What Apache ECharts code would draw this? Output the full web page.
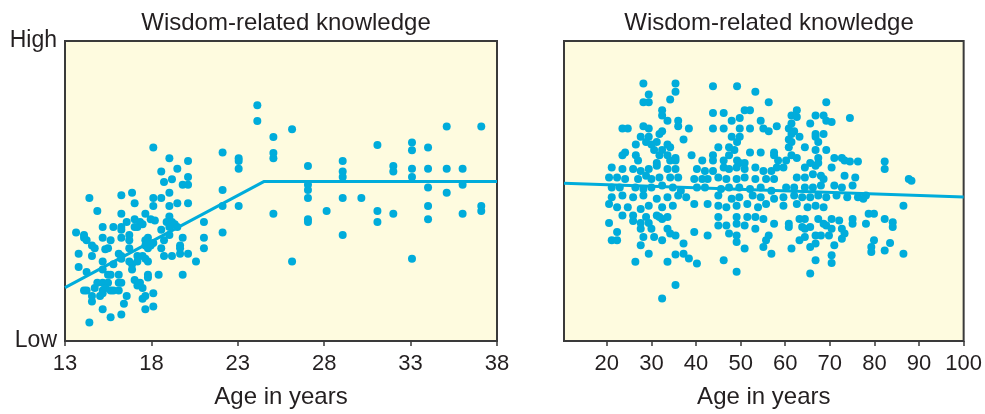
<!DOCTYPE html>
<html><head><meta charset="utf-8">
<script src="https://cdn.jsdelivr.net/npm/echarts@6/dist/echarts.min.js"></script>
<style>html,body{margin:0;padding:0;background:#fff}#c{width:985px;height:414px}</style>
</head><body><div id="c"></div>
<script>
// ---------- DATA ----------
const chartTitle = 'Wisdom-related knowledge';
const xAxisName = 'Age in years';
const yTickLabels = ['Low', 'High'];           // at score 0 and 100
const leftAgeTicks = [13, 18, 23, 28, 33, 38];
const rightAgeTicks = [20, 30, 40, 50, 60, 70, 80, 90, 100];

// Left panel: adolescents & young adults (age, wisdom score 0=Low..100=High)
const youngPoints = [
[18.11,64.5],[19.04,60.9],[20.12,60.0],[22.12,62.8],[19.50,57.4],[18.57,56.5],[19.19,53.9],[18.73,53.0],
[19.81,52.1],[20.12,52.1],[20.12,54.7],[19.04,49.4],[14.41,47.7],[16.26,48.6],[16.88,49.4],[18.11,47.7],
[18.57,47.7],[17.03,45.9],[18.11,45.0],[19.04,45.0],[19.50,45.9],[20.12,45.9],[22.12,50.3],[22.12,45.0],
[14.87,43.3],[16.26,42.4],[17.65,42.4],[16.57,39.7],[17.03,40.6],[17.34,39.7],[17.96,40.6],[18.20,40.2],
[19.04,41.5],[18.88,39.7],[19.19,39.7],[19.35,38.9],[15.18,38.0],[15.80,38.0],[16.26,38.0],[16.26,37.1],
[17.03,38.0],[17.19,38.0],[17.49,38.9],[18.57,37.1],[19.04,38.0],[19.50,38.0],[21.04,39.7],[13.64,36.2],
[14.10,35.3],[14.10,34.4],[14.25,33.6],[15.18,34.4],[15.64,33.6],[16.26,34.4],[16.72,35.3],[16.72,33.6],
[17.80,34.4],[17.65,33.6],[17.80,32.7],[18.11,32.7],[18.73,33.6],[19.04,35.3],[19.81,34.4],[21.04,34.4],
[22.12,36.2],[14.56,31.8],[14.72,30.9],[15.49,30.9],[15.33,30.6],[16.72,30.9],[17.65,31.8],[17.80,30.9],
[17.96,31.8],[18.57,30.9],[19.66,31.8],[19.66,30.9],[21.04,30.9],[13.79,29.1],[14.56,28.3],[16.11,29.1],
[16.26,28.3],[17.19,28.3],[17.49,28.3],[17.65,27.4],[18.73,28.3],[19.19,28.3],[19.66,29.1],[20.12,29.1],
[15.18,26.5],[15.80,25.6],[16.26,27.4],[16.72,26.5],[16.88,25.6],[17.19,26.5],[17.80,26.5],[20.58,26.5],
[13.79,24.7],[14.25,23.0],[15.18,23.8],[15.49,22.1],[15.64,22.1],[16.11,22.1],[16.88,23.8],[17.80,22.1],
[17.80,21.2],[18.42,22.1],[19.81,22.1],[14.87,19.4],[15.18,19.4],[15.49,19.4],[16.11,19.4],[16.26,19.4],
[17.03,20.3],[17.34,19.4],[17.19,18.5],[17.49,17.7],[14.10,16.8],[14.25,16.8],[14.72,17.7],[15.18,16.8],
[15.33,17.7],[15.64,16.8],[15.80,16.8],[16.11,16.8],[14.56,15.0],[15.03,15.0],[15.18,15.9],[16.57,15.0],
[17.49,14.1],[17.65,15.0],[18.11,15.9],[14.56,13.2],[16.41,12.4],[15.18,10.6],[17.65,10.6],[18.11,11.5],
[15.64,7.9],[16.26,8.8],[14.41,6.2],
[24.13,78.6],[24.13,73.3],[25.06,68.0],[26.14,70.6],[25.06,62.7],[25.06,60.9],[23.05,60.9],[23.05,60.0],
[23.05,57.4],[23.05,45.0],[25.06,42.4],[26.14,26.5],[27.06,58.3],[27.06,52.1],[27.06,50.3],[27.06,47.7],
[27.06,40.6],[27.06,39.7],[28.14,43.3],[29.07,60.0],[29.07,56.5],[29.07,54.7],[29.07,47.7],[29.07,35.3],
[30.15,47.7],[31.08,65.3],[31.08,43.3],[31.08,39.7],[32.00,58.3],[32.00,56.5],[32.00,42.4],[33.08,66.2],
[33.08,63.6],[33.08,57.4],[33.08,54.7],[33.08,27.4],[34.01,64.5],[34.01,57.4],[34.01,51.2],[34.01,45.0],
[34.01,40.6],[35.09,71.5],[35.09,57.4],[35.09,49.4],[36.01,57.4],[36.01,52.1],[36.01,42.4],[37.09,71.5],
[37.09,45.0],[37.09,43.3]
];
const youngFit = [[13, 17.8], [24.53, 53.2], [38, 53.2]];

// Right panel: adults (age, wisdom score)
const adultPoints = [
[28.2,85.8],[35.4,85.8],[43.8,84.9],[49.2,84.9],[53.3,83.1],[35.4,83.1],[29.4,82.2],[34.2,80.5],
[28.2,79.6],[29.4,79.6],[56.3,79.6],[32.4,76.9],[32.4,75.2],[43.8,76.0],[46.2,76.0],[50.9,76.9],
[52.1,76.9],[33.6,73.4],[36.0,73.4],[48.0,73.4],[49.8,74.3],[54.5,73.4],[23.5,70.8],[24.7,70.8],
[28.2,71.6],[29.4,70.8],[36.0,71.6],[38.4,70.8],[43.8,70.8],[46.2,70.8],[49.8,70.8],[52.1,70.8],
[55.1,70.8],[56.3,69.9],[58.1,71.6],[27.6,68.1],[29.4,68.1],[31.8,69.0],[32.4,69.9],[37.2,67.2],
[48.0,68.1],[49.8,68.1],[31.2,66.3],[28.8,66.3],[26.5,65.5],[30.0,65.5],[33.6,65.5],[34.2,64.6],
[45.0,64.6],[47.4,64.6],[49.2,66.3],[48.6,63.7],[30.6,63.7],[32.4,63.7],[24.1,62.8],[23.5,61.9],
[26.5,61.9],[31.8,61.9],[33.6,61.9],[35.4,61.0],[39.0,61.9],[43.8,61.9],[43.8,60.2],[47.4,61.9],
[52.1,62.8],[54.5,62.8],[57.5,62.8],[57.5,61.9],[27.0,60.2],[34.2,60.2],[35.4,60.2],[41.4,60.2],
[46.2,60.2],[49.2,60.2],[50.9,59.3],[49.8,59.3],[31.2,59.3],
[69.2,79.6],[62.6,76.9],[61.4,75.2],[62.6,74.7],[66.8,75.2],[68.6,75.2],[74.5,74.3],[69.2,73.4],
[70.4,73.0],[61.4,72.5],[65.6,72.5],[60.8,70.8],[62.0,69.9],[61.4,69.0],[63.2,68.1],[66.8,69.0],
[68.6,69.0],[66.8,68.1],[60.8,67.2],[61.4,66.3],[67.4,66.3],[60.8,64.6],[64.4,64.6],[66.8,63.7],
[69.2,63.7],[61.4,61.9],[62.6,61.0],[67.4,61.0],[71.0,61.0],[72.7,61.0],[73.3,60.2],[60.2,60.2],
[58.4,60.2],[67.4,59.3],[74.5,59.8],[76.3,59.8],[65.6,59.3],[82.3,59.8],
[21.1,57.8],[23.5,57.3],[25.9,57.3],[27.6,56.7],[29.4,57.3],[31.2,58.4],[33.6,57.3],[35.4,57.3],
[40.2,57.3],[42.0,56.7],[43.8,56.7],[46.2,57.8],[47.4,57.3],[49.1,57.8],[50.9,57.3],[53.3,57.8],
[55.1,56.7],[56.9,56.7],[58.1,57.8],[20.5,54.5],[22.3,54.5],[24.1,54.0],[27.0,54.0],[28.8,55.1],
[30.0,54.0],[31.8,54.5],[34.2,54.5],[36.0,54.5],[39.6,54.0],[41.4,54.0],[42.6,54.0],[45.0,54.5],
[46.8,54.0],[49.1,54.0],[50.9,54.5],[53.3,54.0],[55.7,54.0],[57.5,54.0],[21.1,51.2],[22.9,51.2],
[26.4,51.2],[28.2,50.7],[30.0,51.2],[32.4,51.8],[34.8,51.2],[36.6,50.1],[40.2,51.2],[42.0,51.2],
[45.6,50.7],[47.4,51.2],[49.7,51.2],[52.1,50.7],[54.5,51.2],[56.9,50.1],[21.1,47.9],[23.5,48.5],
[25.9,47.9],[28.2,48.5],[31.2,47.4],[33.6,47.9],[36.0,48.5],[37.8,47.9],[45.0,48.5],[48.0,47.4],
[49.7,47.9],[52.7,48.5],[54.5,47.9],[57.5,47.4],[20.5,45.7],[22.3,44.6],[24.7,44.6],[27.6,44.0],
[29.4,45.1],[32.4,44.6],[34.8,45.1],[39.6,45.7],[42.6,45.7],[45.0,45.1],[46.8,44.6],[49.1,45.1],
[51.5,45.7],[53.9,44.6],[55.7,45.7],
[59.6,57.8],[64.4,57.8],[66.8,58.4],[70.4,57.8],[82.3,57.3],[62.6,54.5],[64.4,54.5],[66.2,55.6],
[68.0,55.1],[68.6,54.0],[73.3,55.1],[75.7,54.5],[87.7,54.0],[88.3,53.4],[60.2,51.2],[62.0,51.2],
[64.4,51.2],[66.2,51.2],[68.0,51.8],[71.0,51.8],[72.7,51.2],[75.1,51.8],[59.6,47.9],[62.0,48.5],
[63.8,47.9],[65.6,47.9],[67.4,48.5],[69.2,47.9],[71.5,48.5],[73.9,47.9],[76.3,47.9],[78.1,48.5],
[59.6,45.1],[62.6,45.7],[65.0,44.6],[66.8,45.1],[68.6,44.6],[77.5,47.4],[86.5,45.1],
[20.5,39.3],[22.3,36.3],[21.1,33.6],[22.3,33.6],[23.5,41.8],[25.9,40.0],[27.6,39.3],[27.6,37.4],
[29.4,39.3],[30.0,37.4],[28.2,34.7],[27.6,31.9],[30.6,34.7],[32.4,33.6],[29.4,29.1],[26.4,26.4],
[31.8,41.3],[32.4,40.7],[33.6,37.4],[34.2,35.8],[35.4,35.2],[37.2,32.5],[39.6,36.3],[42.6,35.2],
[35.4,28.8],[37.2,29.1],[38.4,27.5],[33.6,26.4],[40.2,25.8],[46.2,26.9],[49.1,23.1],[35.4,18.7],
[32.4,14.2],[45.0,41.3],[45.0,38.5],[46.8,38.5],[47.4,35.8],[49.1,39.1],[49.1,35.2],[49.1,33.0],
[50.9,38.5],[50.9,30.8],[53.3,37.4],[55.1,40.7],[55.7,33.6],[56.3,35.2],[55.1,31.3],[56.9,29.1],
[57.5,39.1],[49.1,41.3],[51.5,41.3],[53.3,41.3],[28.8,41.3],[31.2,41.8],[25.9,41.8],[33.6,41.3],
[60.8,39.1],[60.8,38.0],[63.2,40.7],[64.4,40.7],[63.8,38.0],[64.4,37.4],[65.6,38.0],[67.4,40.7],
[66.8,35.2],[68.6,39.1],[69.2,38.5],[70.4,40.7],[70.4,37.4],[69.8,35.2],[68.0,35.2],[72.1,40.2],
[72.7,37.4],[73.3,35.8],[72.7,34.1],[75.1,40.7],[75.1,39.1],[78.1,39.1],[78.7,42.4],[79.9,42.4],
[82.3,40.7],[84.1,39.6],[84.1,38.0],[64.4,34.7],[63.2,33.6],[66.8,32.5],[65.6,31.3],[61.4,30.8],
[71.0,31.9],[79.9,33.6],[79.3,31.3],[79.3,29.7],[82.3,30.2],[83.5,32.7],[86.5,29.1],[70.4,28.6],
[70.4,26.0],[66.8,26.9],[65.6,22.5]
];
const adultFit = [[10.4, 52.6], [100, 48.0]];

// ---------- CHART ----------
const FONT = '"Liberation Sans", Arial, Helvetica, sans-serif';
const TXT = '#231f20';
const FRAME = '#3a3a3a';
const DOT = '#00acdb';
const BG = '#fefbdf';

const chart = echarts.init(document.getElementById('c'), null, {renderer: 'canvas'});

function xAxisCfg(gridIndex, min, max, ticks) {
  return {
    gridIndex, type: 'value', min, max,
    name: xAxisName, nameLocation: 'middle', nameGap: 44,
    nameTextStyle: {fontFamily: FONT, fontSize: 24, color: TXT},
    axisLine: {show: false},
    axisTick: {show: true, inside: false, length: 5, customValues: ticks,
               lineStyle: {color: FRAME, width: 1.5}},
    axisLabel: {show: true, margin: 12, customValues: ticks,
                fontFamily: FONT, fontSize: 22, color: TXT},
    splitLine: {show: false}
  };
}
function yAxisCfg(gridIndex, showLabels) {
  return {
    gridIndex, type: 'value', min: 0, max: 100, interval: 100,
    axisLine: {show: false}, axisTick: {show: false}, splitLine: {show: false},
    axisLabel: {show: showLabels, margin: 8, fontFamily: FONT, fontSize: 23, color: TXT,
                formatter: v => v === 0 ? yTickLabels[0] : (v === 100 ? yTickLabels[1] : '')}
  };
}

chart.setOption({
  animation: false,
  backgroundColor: '#ffffff',
  title: [
    {text: chartTitle, left: 281, top: 6, textAlign: 'center',
     textStyle: {fontFamily: FONT, fontSize: 24, fontWeight: 'normal', color: TXT}},
    {text: chartTitle, left: 764, top: 6, textAlign: 'center',
     textStyle: {fontFamily: FONT, fontSize: 24, fontWeight: 'normal', color: TXT}}
  ],
  grid: [
    {left: 65, top: 41, width: 432, height: 302, show: true, backgroundColor: BG,
     borderColor: FRAME, borderWidth: 2},
    {left: 564, top: 41, width: 400, height: 302, show: true, backgroundColor: BG,
     borderColor: FRAME, borderWidth: 2}
  ],
  xAxis: [xAxisCfg(0, 13, 38, leftAgeTicks), xAxisCfg(1, 10.4, 100, rightAgeTicks)],
  yAxis: [yAxisCfg(0, true), yAxisCfg(1, false)],
  series: [
    {type: 'scatter', xAxisIndex: 0, yAxisIndex: 0, data: youngPoints,
     symbolSize: 8, itemStyle: {color: DOT, opacity: 1}},
    {type: 'line', xAxisIndex: 0, yAxisIndex: 0, data: youngFit, symbol: 'none',
     lineStyle: {color: DOT, width: 3}, z: 3},
    {type: 'scatter', xAxisIndex: 1, yAxisIndex: 1, data: adultPoints,
     symbolSize: 8, itemStyle: {color: DOT, opacity: 1}},
    {type: 'line', xAxisIndex: 1, yAxisIndex: 1, data: adultFit, symbol: 'none',
     lineStyle: {color: DOT, width: 3}, z: 3}
  ]
});
</script>
</body></html>
